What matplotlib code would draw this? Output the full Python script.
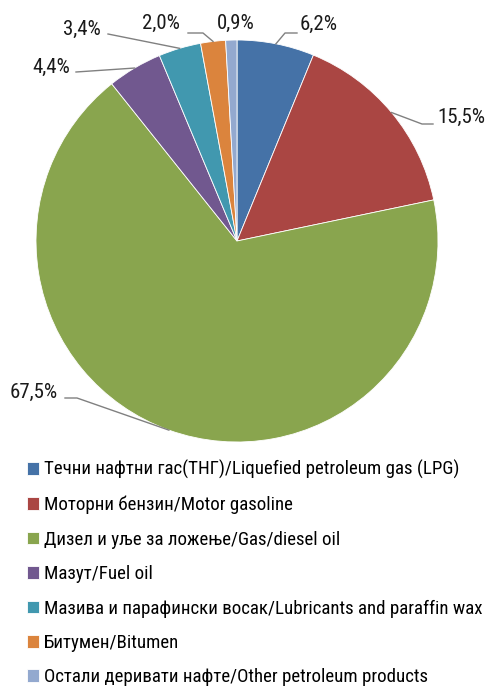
import numpy as np
import matplotlib
matplotlib.use("Agg")
import matplotlib.pyplot as plt

plt.rcParams['font.family'] = ['Roboto Condensed', 'PT Sans Narrow', 'Liberation Sans', 'DejaVu Sans']

# Данные
labels = [
    "Течни нафтни гас(ТНГ)/Liquefied petroleum gas (LPG)",
    "Моторни бензин/Motor gasoline",
    "Дизел и уље за ложење/Gas/diesel oil",
    "Мазут/Fuel oil",
    "Мазива и парафински восак/Lubricants and paraffin wax",
    "Битумен/Bitumen",
    "Остали деривати нафте/Other petroleum products",
]
values = [6.2, 15.5, 67.5, 4.4, 3.4, 2.0, 0.9]
value_text = ["6,2%", "15,5%", "67,5%", "4,4%", "3,4%", "2,0%", "0,9%"]
colors = ["#4572A7", "#AA4643", "#89A54E", "#71588F", "#4198AF", "#DB843D", "#93A9CF"]

W, H = 492, 693
fig = plt.figure(figsize=(W / 100, H / 100), dpi=100)
ax = fig.add_axes([0, 0, 1, 1])

cx, cy, R = 237, 241, 201

# ось y перевёрнута -> counterclock=True даёт обход по часовой стрелке на картинке
wedges, _ = ax.pie(values, colors=colors, startangle=-90, counterclock=True,
                   center=(cx, cy), radius=R, frame=True,
                   wedgeprops=dict(edgecolor='white', linewidth=0.6))
ax.set_xlim(0, W)
ax.set_ylim(H, 0)
ax.axis('off')

# подписи: (точка излома или None, конец линии, позиция текста (лево, базовая линия))
label_layout = [
    ((285, 33), (297, 33), (300, 30)),
    ((422, 124), (433, 124), (437, 123)),
    ((77, 398), (65, 398), (10, 398)),
    (None, (76, 72), (32, 73)),
    (None, (108, 34), (63, 35)),
    ((203, 33), (188, 33), (142, 29)),
    (None, None, (217, 29)),
]

for w, txt, (elbow, end, pos) in zip(wedges, value_text, label_layout):
    ang = np.deg2rad((w.theta1 + w.theta2) / 2)
    px = cx + R * np.cos(ang)
    py = cy + R * np.sin(ang)
    if end is not None:
        pts = [(px, py)] + ([elbow] if elbow else []) + [end]
        xs, ys = zip(*pts)
        ax.plot(xs, ys, color='#808080', lw=1.0)
    ax.text(pos[0], pos[1], txt, fontsize=15, ha='left', va='baseline', color='#1a1a1a')

fig.legend(wedges, labels, loc='upper left', bbox_to_anchor=(27 / W, 1 - 460 / H),
           frameon=False, fontsize=13.6, handlelength=0.64, handleheight=0.64,
           handletextpad=0.25, labelspacing=0.87, borderpad=0, borderaxespad=0)

fig.savefig("out.png", dpi=100)
